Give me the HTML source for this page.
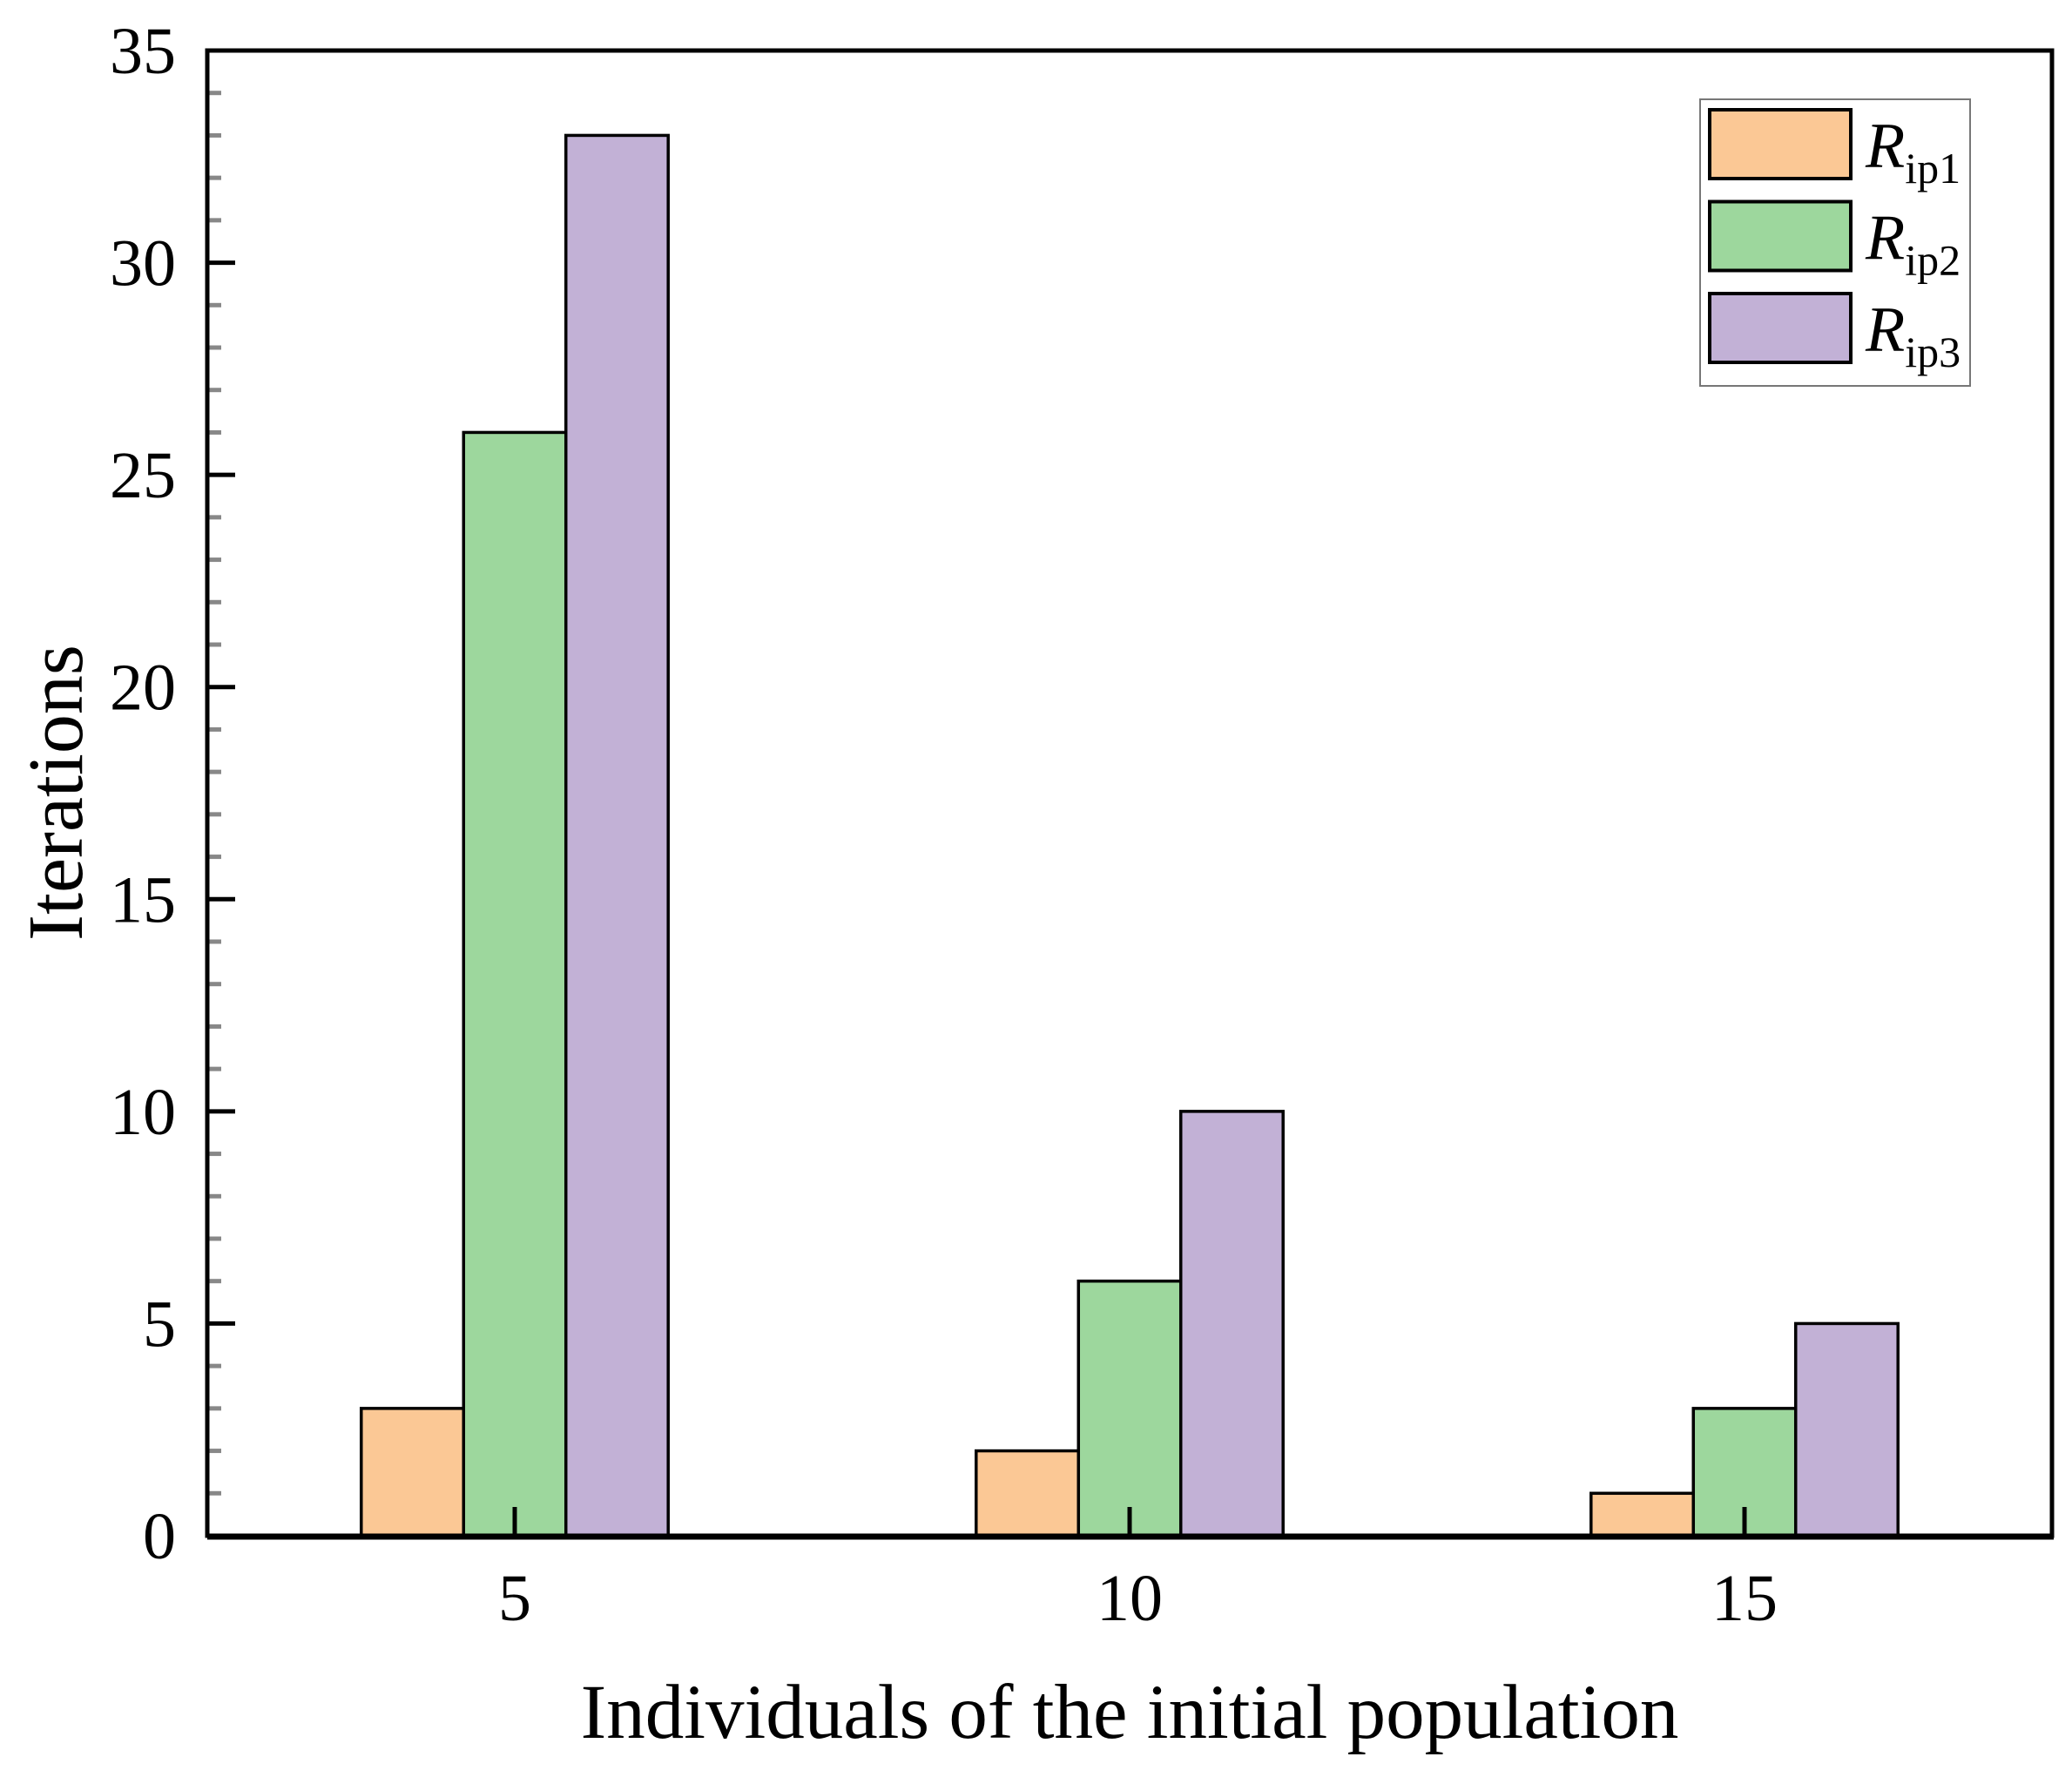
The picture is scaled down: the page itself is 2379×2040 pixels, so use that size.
<!DOCTYPE html>
<html><head><meta charset="utf-8"><style>
html,body{margin:0;padding:0;background:#fff;}
svg{display:block;font-family:"Liberation Serif",serif;}
</style></head><body>
<svg id="chart" width="2379" height="2040" viewBox="0 0 2379 2040"></svg>
<script>
const categories = [5, 10, 15];
const seriesNames = ["ip1", "ip2", "ip3"];
const seriesRip1 = [3, 2, 1];
const seriesRip2 = [26, 6, 3];
const seriesRip3 = [33, 10, 5];
const yTicks = [0, 5, 10, 15, 20, 25, 30, 35];
const colors = ["#FBC895", "#9DD79D", "#C2B1D6"];

const NS = "http://www.w3.org/2000/svg";
const svg = document.getElementById("chart");
const L = 238, R = 2356, T = 58, B = 1763;
const xMin = 2.5, xMax = 17.5, yMin = 0, yMax = 35;
function xs(v){ return L + (v - xMin) / (xMax - xMin) * (R - L); }
function ys(v){ return B - (v - yMin) / (yMax - yMin) * (B - T); }
function mk(tag, attrs, parent){
  const e = document.createElementNS(NS, tag);
  for (const k in attrs) e.setAttribute(k, attrs[k]);
  (parent || svg).appendChild(e);
  return e;
}
const bw = (xs(5) - xs(0)) * 0.1664;
const series = [seriesRip1, seriesRip2, seriesRip3];
const gBars = mk("g", {});


series.forEach((vals, si) => {
  vals.forEach((v, ci) => {
    const x0 = xs(categories[ci]) - 1.5 * bw + si * bw;
    const r = mk("rect", {x: x0, y: ys(v), width: bw, height: ys(0) - ys(v), fill: colors[si], stroke: "#000", "stroke-width": 3.5}, gBars);
    
    
  });
});
for (let v = 1; v < 35; v++) {
  if (v % 5 === 0) continue;
  const t = mk("line", {x1: L, x2: L + 16, y1: ys(v), y2: ys(v), stroke: "#888", "stroke-width": 5});
  
  
}
yTicks.forEach(v => {
  const t = mk("line", {x1: L, x2: L + 32, y1: ys(v), y2: ys(v), stroke: "#000", "stroke-width": 5});
  
  
  const lb = mk("text", {x: 202, y: ys(v) + 26, "text-anchor": "end", "font-size": 76});
  lb.textContent = v;
  
  
});
categories.forEach(c => {
  const t = mk("line", {x1: xs(c), x2: xs(c), y1: B, y2: B - 33, stroke: "#000", "stroke-width": 5});
  
  
  const lb = mk("text", {x: xs(c), y: 1860, "text-anchor": "middle", "font-size": 76});
  lb.textContent = c;
  
  
});
const frame = mk("rect", {x: L, y: T, width: R - L, height: B - T, fill: "none", stroke: "#000", "stroke-width": 5});


const bl = mk("line", {x1: L, x2: R + 2, y1: B + 1, y2: B + 1, stroke: "#000", "stroke-width": 7});



const xt = mk("text", {x: 1297, y: 1995, "text-anchor": "middle", "font-size": 89});
xt.textContent = "Individuals of the initial population";


const yt = mk("text", {x: 0, y: 0, "text-anchor": "middle", "font-size": 90, transform: "translate(94 910) rotate(-90)"});
yt.textContent = "Iterations";



const lg = mk("g", {});


const lbox = mk("rect", {x: 1952, y: 114, width: 310, height: 329, fill: "#fff", stroke: "#777", "stroke-width": 2}, lg);


seriesNames.forEach((n, i) => {
  const y0 = 126 + i * 105.5;
  const sw = mk("rect", {x: 1963, y: y0, width: 162, height: 79, fill: colors[i], stroke: "#000", "stroke-width": 4}, lg);
  
  
  const tx = mk("text", {x: 2142, y: y0 + 66, "font-size": 74}, lg);
  
  
  const r = mk("tspan", {"font-style": "italic"}, tx); r.textContent = "R";
  const s = mk("tspan", {"font-size": 50, dy: 18}, tx); s.textContent = n;
});
</script>
</body></html>
